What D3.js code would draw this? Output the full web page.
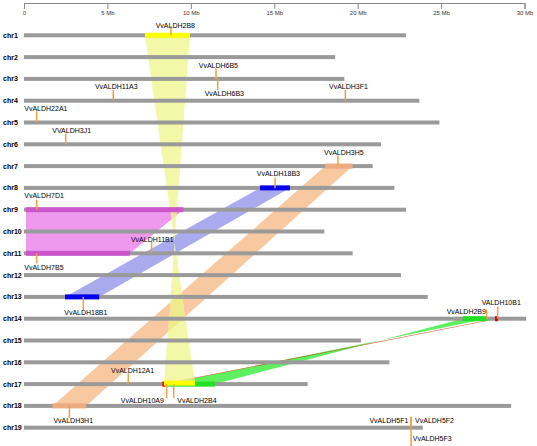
<!DOCTYPE html>
<html><head><meta charset="utf-8">
<script src="https://cdn.jsdelivr.net/npm/d3@7"></script>
<style>body{margin:0;background:#fff}svg{display:block}</style>
</head><body><svg id="c" width="537" height="446"></svg>
<script>
// ---------- data ----------
const chromosomes = ["chr1","chr2","chr3","chr4","chr5","chr6","chr7","chr8","chr9","chr10",
  "chr11","chr12","chr13","chr14","chr15","chr16","chr17","chr18","chr19"];
const chrLengthsMb = [22.9,18.65,19.2,23.7,24.9,21.4,20.9,22.2,22.9,18.0,
  19.7,22.6,24.2,30.1,20.2,21.9,17.0,29.2,23.9];

const axisTicksMb = [0,5,10,15,20,25,30];
const axisTickLabels = ["0","5 Mb","10 Mb","15 Mb","20 Mb","25 Mb","30 Mb"];

const geneNames = ["VvALDH2B8","VvALDH6B5","VvALDH6B3","VvALDH11A3","VvALDH3F1","VvALDH22A1",
  "VVALDH3J1","VvALDH3H5","VvALDH18B3","VvALDH7D1","VvALDH11B1","VvALDH7B5","VvALDH18B1",
  "VALDH10B1","VvALDH2B9","VvALDH12A1","VvALDH10A9","VvALDH2B4","VvALDH3H1",
  "VvALDH5F1","VvALDH5F2","VvALDH5F3"];
const geneChr = ["chr1","chr3","chr3","chr4","chr4","chr5","chr6","chr7","chr8","chr9","chr11",
  "chr11","chr13","chr14","chr14","chr17","chr17","chr17","chr18","chr19","chr19","chr19"];
const genePosMb = [8.81,11.51,11.61,5.35,19.26,0.76,2.5,18.82,15.05,0.76,7.65,
  0.76,3.55,28.39,27.73,6.25,8.55,8.97,2.72,23.2,23.2,23.2];

// syntenic blocks (Mb)
const linkSrcChr   = ["chr9","chr8","chr7","chr17","chr17","chr1"];
const linkSrcStart = [0.12,14.15,18.05,8.49,8.29,7.25];
const linkSrcEnd   = [9.55,15.94,19.7,11.45,8.49,9.95];
const linkDstChr   = ["chr11","chr13","chr18","chr14","chr14","chr17"];
const linkDstStart = [0.12,2.46,1.7,26.3,28.23,8.39];
const linkDstEnd   = [6.35,4.51,3.72,27.74,28.41,10.25];
const linkInverted = [false,false,false,true,false,true];

// ---------- styles / layout ----------
const bandFill = ["#ee99ee","#aaaaee","#f8c8a0","#5ef05e","#d05020","#eef58a"];
const bandOpacity = [1,1,1,1,0.85,0.75];
const segFill  = ["#cc55cc","#0000ee","#eeaa80","#22e022","#ee0000","#ffff00"];
const labelLayout = {
  "VvALDH2B8":[-15.3,-10,"start",-9],
  "VvALDH6B5":[-17.3,-13.2,"start",-10.5],
  "VvALDH6B3":[-13,14.8,"start",11],
  "VvALDH11A3":[-18.3,-13.7,"start",-10.7],
  "VvALDH3F1":[-16.3,-13.7,"start",-10.7],
  "VvALDH22A1":[-12.4,-14.2,"start",-11],
  "VVALDH3J1":[-13.4,-13.6,"start",-10.6],
  "VvALDH3H5":[-14,-14,"start",-10.5],
  "VvALDH18B3":[-18.3,-14,"start",-10.5],
  "VvALDH7D1":[-12.4,-14,"start",-10],
  "VvALDH11B1":[-20.7,-14,"start",-11.5],
  "VvALDH7B5":[-12.4,14.4,"start",10],
  "VvALDH18B1":[-19,16,"start",13],
  "VALDH10B1":[-16,-16.5,"start",-12],
  "VvALDH2B9":[-0.7,-7,"end",-9],
  "VvALDH12A1":[-17.3,-13.4,"start",-10.5],
  "VvALDH10A9":[-2.7,16,"end",14],
  "VvALDH2B4":[3.6,16,"start",14],
  "VvALDH3H1":[-16,15,"start",12.5],
  "VvALDH5F1":[-2.7,-7,"end",-11],
  "VvALDH5F2":[4,-7,"start",-11],
  "VvALDH5F3":[1.7,10.6,"start",19]
};

// ---------- drawing ----------
const svg = d3.select("#c");
const x = d3.scaleLinear().domain([0,30]).range([24,524.5]);
const y = d3.scalePoint().domain(chromosomes).range([35.3,427.7]);
const barH = 4, segH = 5;

// axis
const axis = d3.axisBottom(x).tickValues(axisTicksMb)
  .tickFormat((d,i)=>axisTickLabels[i]).tickSize(6).tickSizeOuter(6).tickPadding(2);
const gAxis = svg.append("g").attr("transform","translate(0,3)").call(axis);
gAxis.selectAll("path,line").attr("stroke","#888");
gAxis.selectAll("text").attr("fill","#333").style("font","6px 'Liberation Sans', Arial, sans-serif");

// bands (behind chromosomes)
const bands = svg.append("g");
linkSrcChr.forEach((sc,i)=>{
  const y0 = y(sc), y1 = y(linkDstChr[i]);
  const a0 = x(linkSrcStart[i]), a1 = x(linkSrcEnd[i]);
  let b0 = x(linkDstStart[i]), b1 = x(linkDstEnd[i]);
  if (linkInverted[i]) { const t=b0; b0=b1; b1=t; }
  const pts = [[a0,y0],[a1,y0],[b1,y1],[b0,y1]];
  bands.append("path").attr("d", d3.line()(pts)+"Z")
    .attr("fill", bandFill[i]).attr("fill-opacity", bandOpacity[i]);
});

// chromosomes
svg.append("g").selectAll("rect").data(chromosomes).join("rect")
  .attr("x", x(0)).attr("y", d=>y(d)-barH/2)
  .attr("width",(d,i)=>x(chrLengthsMb[i])-x(0)).attr("height",barH)
  .attr("fill","#9a9a9a");
svg.append("g").selectAll("text").data(chromosomes).join("text")
  .attr("x",3).attr("y",d=>y(d)).attr("dy","0.35em")
  .style("font","bold 7px 'Liberation Sans', Arial, sans-serif").attr("fill","#000")
  .text(d=>d);

// block segments
const segs = svg.append("g");
[0,1,2,3,4,5].forEach(i=>{
  [[linkSrcChr[i],linkSrcStart[i],linkSrcEnd[i]],[linkDstChr[i],linkDstStart[i],linkDstEnd[i]]]
  .forEach(([c,s,e])=>{
    segs.append("rect").attr("x",x(s)).attr("y",y(c)-segH/2 - (i===5 && c==="chr17"?1:0))
      .attr("width",x(e)-x(s)).attr("height",segH).attr("fill",segFill[i]);
  });
});

// genes
const genes = svg.append("g");
geneNames.forEach((g,i)=>{
  const gx = x(genePosMb[i]), gy = y(geneChr[i]);
  const [dx,dy,anchor,tk] = labelLayout[g];
  genes.append("line").attr("x1",gx).attr("x2",gx).attr("y1",gy).attr("y2",gy+tk)
    .attr("stroke","#f0a040").attr("stroke-width",1.5);
});
geneNames.forEach((g,i)=>{
  const gx = x(genePosMb[i]), gy = y(geneChr[i]);
  const [dx,dy,anchor] = labelLayout[g];
  genes.append("text").attr("x",gx+dx).attr("y",gy+dy).attr("dy","0.35em")
    .attr("text-anchor",anchor)
    .style("font","7px 'Liberation Sans', Arial, sans-serif").attr("fill","#000").text(g);
});
</script></body></html>
